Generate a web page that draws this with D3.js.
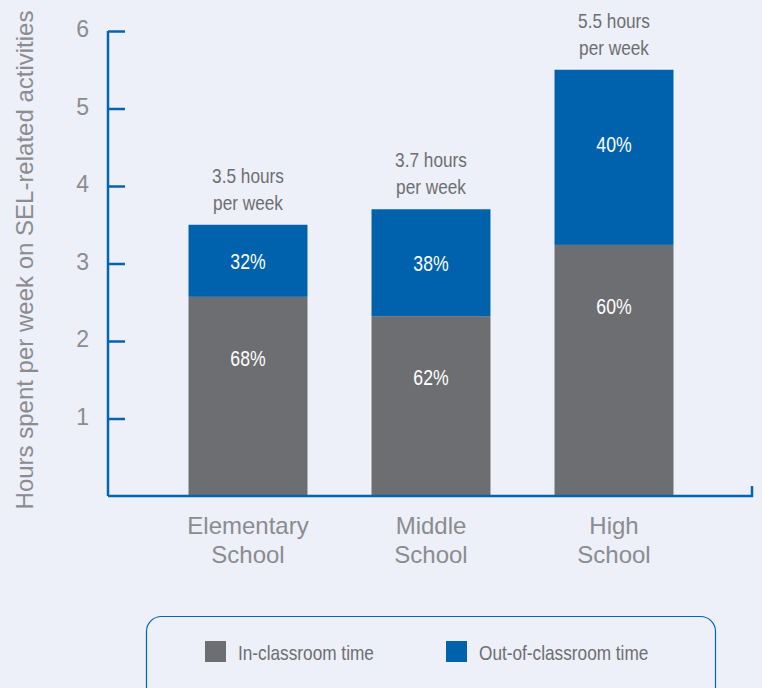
<!DOCTYPE html>
<html>
<head>
<meta charset="utf-8">
<script src="https://cdn.jsdelivr.net/npm/d3@7"></script>
<style>
  html, body { margin: 0; padding: 0; background: #edf0f8; }
  svg { display: block; }
</style>
</head>
<body>
<svg id="chart" width="762" height="688"></svg>
<script>
// ---- data ----
const categories = ["Elementary School", "Middle School", "High School"];
const categoryLines = [["Elementary", "School"], ["Middle", "School"], ["High", "School"]];
const totalHours = [3.5, 3.7, 5.5];
const inClassroom = [2.57, 2.32, 3.24];
const outClassroom = [0.93, 1.38, 2.26];
const inPctLabels = ["68%", "62%", "60%"];
const outPctLabels = ["32%", "38%", "40%"];
const totalLabels = ["3.5 hours", "3.7 hours", "5.5 hours"];
const yTicks = [1, 2, 3, 4, 5, 6];
const seriesNames = ["In-classroom time", "Out-of-classroom time"];
const seriesColors = ["#6d6e71", "#0061ad"];
const yTitle = "Hours spent per week on SEL-related activities";

const svg = d3.select("#chart");
const SANS = "'Liberation Sans', Arial, Helvetica, sans-serif";

function fontExists(name) {
  const t = svg.append("text").attr("font-size", 40).text("In-classroom time 0123");
  t.attr("font-family", `'${name}', monospace`);
  const a = t.node().getComputedTextLength();
  t.attr("font-family", `'${name}', serif`);
  const b = t.node().getComputedTextLength();
  t.attr("font-family", "monospace");
  const c = t.node().getComputedTextLength();
  t.remove();
  return Math.abs(a - b) < 0.5 && Math.abs(a - c) > 0.5;
}
const hasNarrow = fontExists("Liberation Sans Narrow");
function narrow(sel) {
  if (hasNarrow) {
    sel.attr("font-family", "'Liberation Sans Narrow', sans-serif");
  } else {
    sel.attr("font-family", SANS);
    sel.each(function() {
      const w = this.getComputedTextLength();
      d3.select(this).attr("textLength", w * 0.82).attr("lengthAdjust", "spacingAndGlyphs");
    });
  }
  return sel;
}

const x = d3.scaleBand().domain(categories).range([156.5, 705.5]).paddingInner(0.35).paddingOuter(0.175);
const y = d3.scaleLinear().domain([0, 6]).range([496, 31]);

const axisBlue = "#0563b0";
const lightGray = "#8b8c8f";
const darkGray = "#6d6e71";

// stacked bars
const rows = categories.map((c, i) => ({cat: c, inc: inClassroom[i], out: outClassroom[i]}));
const stack = d3.stack().keys(["inc", "out"])(rows);

svg.append("g").selectAll("g.series").data(stack).join("g")
  .attr("fill", (d, i) => seriesColors[i])
  .selectAll("rect").data(d => d).join("rect")
  .attr("x", d => x(d.data.cat))
  .attr("width", x.bandwidth())
  .attr("y", d => y(d[1]))
  .attr("height", d => y(d[0]) - y(d[1]));

// y axis
const yAxis = d3.axisLeft(y).tickValues(yTicks).tickSize(-17).tickPadding(0).tickFormat(d3.format("d"));
const ya = svg.append("g").attr("transform", "translate(108,0)").call(yAxis);
ya.attr("font-family", SANS).attr("font-size", 23);
ya.select(".domain").attr("stroke", axisBlue).attr("stroke-width", 2.5).attr("d", `M0,${y(6)}V${y(0)}`);
ya.selectAll(".tick line").attr("stroke", axisBlue).attr("stroke-width", 2.5);
ya.selectAll(".tick text")
  .attr("x", -19).attr("dy", "0.24em")
  .attr("font-family", SANS).attr("font-size", 23).attr("fill", lightGray).attr("text-anchor", "end");

// x axis baseline
svg.append("path").attr("d", `M108,${y(0)}H752V486`).attr("fill", "none")
  .attr("stroke", axisBlue).attr("stroke-width", 2.5);

// category labels
categories.forEach((c, i) => {
  const cx = x(c) + x.bandwidth() / 2;
  const t = svg.append("text")
    .attr("text-anchor", "middle").attr("font-family", SANS).attr("font-size", 24).attr("fill", lightGray);
  categoryLines[i].forEach((ln, j) => {
    t.append("tspan").attr("x", cx).attr("y", 534 + j * 29).text(ln);
  });
});

// y title
svg.append("text")
  .attr("transform", `translate(33,${(12 + 508) / 2}) rotate(-90)`)
  .attr("text-anchor", "middle").attr("font-family", SANS).attr("font-size", 24).attr("fill", lightGray)
  .text(yTitle);

// total annotations
categories.forEach((c, i) => {
  const cx = x(c) + x.bandwidth() / 2;
  const top = y(totalHours[i]);
  narrow(svg.append("text").attr("x", cx).attr("y", top - 42).attr("text-anchor", "middle")
    .attr("font-size", 21).attr("fill", darkGray).text(totalLabels[i]));
  narrow(svg.append("text").attr("x", cx).attr("y", top - 15).attr("text-anchor", "middle")
    .attr("font-size", 21).attr("fill", darkGray).text("per week"));
});

// percentage labels
categories.forEach((c, i) => {
  const cx = x(c) + x.bandwidth() / 2;
  const top = y(totalHours[i]);
  const split = y(inClassroom[i]);
  const outY = top + Math.min((split - top) / 2, 74);
  narrow(svg.append("text").attr("x", cx).attr("y", outY + 8).attr("text-anchor", "middle")
    .attr("font-size", 21.5).attr("fill", "#ffffff").text(outPctLabels[i]));
  narrow(svg.append("text").attr("x", cx).attr("y", split + 61 + 8).attr("text-anchor", "middle")
    .attr("font-size", 21.5).attr("fill", "#ffffff").text(inPctLabels[i]));
});

// legend
svg.append("rect").attr("x", 146.5).attr("y", 616.5).attr("width", 569).attr("height", 100)
  .attr("rx", 15).attr("ry", 15).attr("fill", "none").attr("stroke", axisBlue).attr("stroke-width", 1.2);
const legX = [205, 446];
seriesNames.forEach((n, i) => {
  svg.append("rect").attr("x", legX[i]).attr("y", 641).attr("width", 21).attr("height", 21).attr("fill", seriesColors[i]);
  narrow(svg.append("text").attr("x", legX[i] + 33).attr("y", 660).attr("font-size", 21)
    .attr("fill", darkGray).text(n));
});
</script>
</body>
</html>
